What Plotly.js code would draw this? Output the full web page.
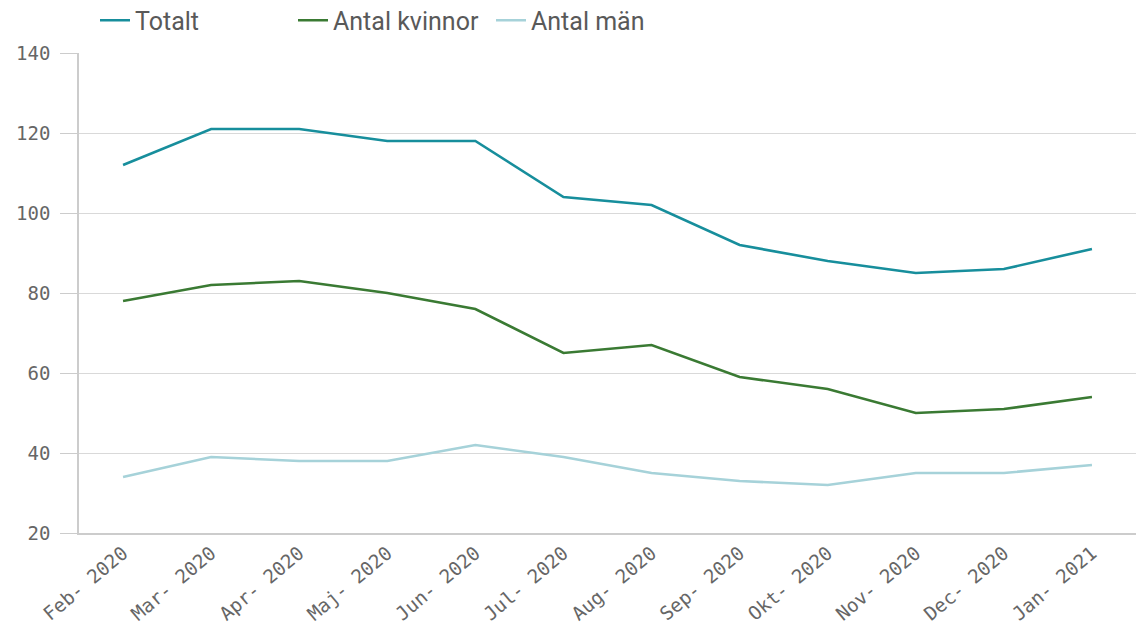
<!DOCTYPE html>
<html><head><meta charset="utf-8">
<script src="https://cdn.plot.ly/plotly-3.0.1.min.js"></script>
<style>html,body{margin:0;padding:0;background:#fff}</style>
</head><body>
<div id="chart" style="width:1136px;height:627px"></div>
<script>
const months = ["Feb- 2020","Mar- 2020","Apr- 2020","Maj- 2020","Jun- 2020","Jul- 2020","Aug- 2020","Sep- 2020","Okt- 2020","Nov- 2020","Dec- 2020","Jan- 2021"];
const totalt = [112,121,121,118,118,104,102,92,88,85,86,91];
const kvinnor = [78,82,83,80,76,65,67,59,56,50,51,54];
const man = [34,39,38,38,42,39,35,33,32,35,35,37];
const yTicks = [20,40,60,80,100,120,140];

const traces = [
  {x: months, y: totalt, name: "Totalt", type: "scatter", mode: "lines", line: {color: "#178e9c", width: 2.6}, legend: "legend"},
  {x: months, y: kvinnor, name: "Antal kvinnor", type: "scatter", mode: "lines", line: {color: "#3a7a33", width: 2.6}, legend: "legend2"},
  {x: months, y: man, name: "Antal män", type: "scatter", mode: "lines", line: {color: "#a6d2d9", width: 2.6}, legend: "legend3"}
];
const legFont = {family: "Roboto, Arial, sans-serif", size: 25, color: "#595959"};
function leg(px) {
  return {orientation: "h", x: px / 1136, xref: "container", y: 1 - 20.5 / 627, yref: "container", yanchor: "middle", xanchor: "left", font: legFont, bgcolor: "rgba(0,0,0,0)", borderwidth: 0};
}
const tickFont = {family: "DejaVu Sans Mono, monospace", size: 19, color: "#666666"};
const layout = {
  width: 1136, height: 627,
  margin: {l: 79, r: 0, t: 53, b: 94},
  paper_bgcolor: "#fff", plot_bgcolor: "#fff",
  showlegend: true,
  legend: leg(95),
  legend2: leg(293),
  legend3: leg(491),
  xaxis: {type: "category", tickangle: -40, showgrid: false, showline: true, linecolor: "#cccccc", linewidth: 1.5, ticks: "", tickfont: tickFont, range: [-0.5, 11.5], zeroline: false},
  yaxis: {range: [20, 140], tickvals: yTicks, showgrid: true, gridcolor: "#d9d9d9", gridwidth: 1, showline: true, linecolor: "#cccccc", linewidth: 1.5, ticks: "outside", ticklen: 17, tickcolor: "#cccccc", tickwidth: 1, ticklabelstandoff: 6, tickfont: tickFont, zeroline: false}
};
Plotly.newPlot("chart", traces, layout, {displayModeBar: false});
</script>
</body></html>
